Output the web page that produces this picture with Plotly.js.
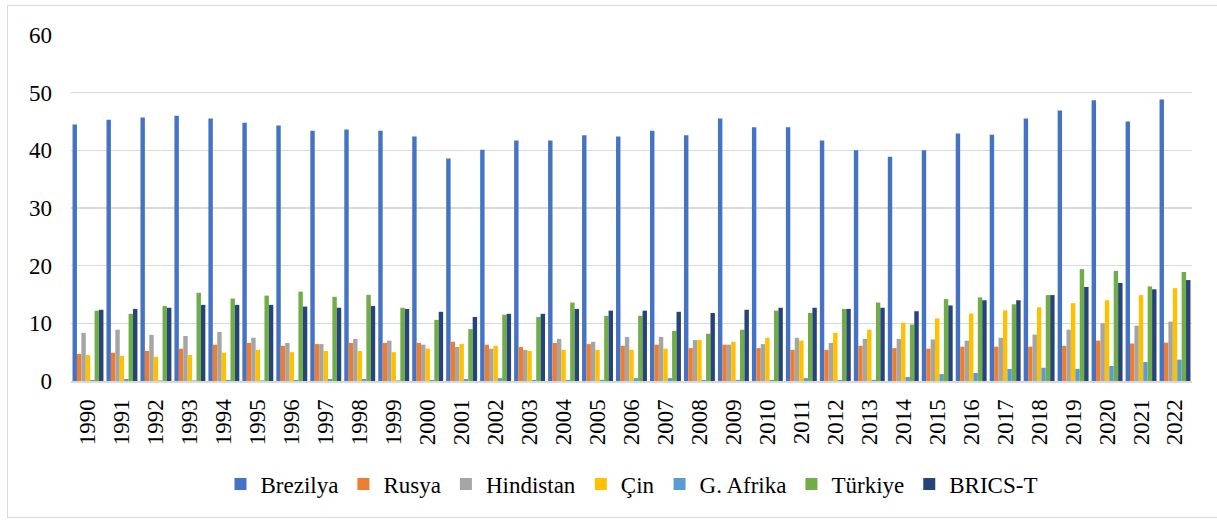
<!DOCTYPE html>
<html>
<head>
<meta charset="utf-8">
<script src="https://cdn.plot.ly/plotly-3.0.1.min.js"></script>
<style>
html,body{margin:0;padding:0;background:#fff;}
#frame{position:absolute;left:7px;top:5px;width:1220px;height:513px;border:1px solid #d9d9d9;box-sizing:border-box;}
#chart{position:absolute;left:0;top:0;width:1217px;height:520px;}
</style>
</head>
<body>
<div id="frame"></div>
<div id="chart"></div>
<script>
const years = ["1990","1991","1992","1993","1994","1995","1996","1997","1998","1999",
  "2000","2001","2002","2003","2004","2005","2006","2007","2008","2009",
  "2010","2011","2012","2013","2014","2015","2016","2017","2018","2019",
  "2020","2021","2022"];

const brezilya = [44.5,45.3,45.7,46.0,45.5,44.8,44.3,43.4,43.6,43.4,
  42.4,38.6,40.1,41.7,41.7,42.6,42.4,43.4,42.6,45.5,
  44.0,44.0,41.7,40.0,38.9,40.0,42.9,42.7,45.5,46.9,
  48.7,45.0,48.8];
const rusya = [4.7,4.9,5.2,5.6,6.3,6.6,6.1,6.4,6.6,6.6,
  6.6,6.8,6.3,5.9,6.6,6.4,6.1,6.3,5.7,6.3,
  5.7,5.4,5.4,6.1,5.7,5.6,5.95,5.95,5.95,6.1,
  7.0,6.5,6.65];
const hindistan = [8.35,8.9,8.0,7.8,8.5,7.5,6.6,6.4,7.3,7.0,
  6.3,5.9,5.6,5.4,7.3,6.8,7.65,7.65,7.1,6.3,
  6.4,7.5,6.6,7.3,7.3,7.2,7.0,7.5,8.05,8.9,
  10.0,9.6,10.3];
const cin = [4.5,4.35,4.2,4.5,4.9,5.4,5.0,5.2,5.2,5.0,
  5.6,6.4,6.1,5.2,5.4,5.4,5.4,5.6,7.1,6.8,
  7.5,7.0,8.35,8.9,10.1,10.85,11.7,12.25,12.8,13.5,
  14.0,14.9,16.1];
const gafrika = [0.2,0.35,0.1,0.1,0.2,0.1,0.2,0.35,0.35,0.1,
  0.2,0.35,0.5,0.2,0.2,0.2,0.5,0.5,0.2,0.2,
  0.2,0.5,0.2,0.2,0.7,1.2,1.4,2.1,2.3,2.1,
  2.6,3.3,3.7];
const turkiye = [12.2,11.65,13.0,15.3,14.3,14.8,15.5,14.6,14.95,12.7,
  10.6,9.0,11.5,11.1,13.6,11.3,11.3,8.7,8.2,8.9,
  12.2,11.8,12.5,13.6,9.8,14.2,14.5,13.3,14.9,19.4,
  19.1,16.4,18.9];
const bricsT = [12.35,12.5,12.7,13.2,13.2,13.2,12.9,12.7,13.0,12.5,
  12.0,11.1,11.65,11.65,12.5,12.2,12.2,12.0,11.8,12.35,
  12.7,12.7,12.5,12.7,12.1,13.1,14.0,14.0,14.9,16.3,
  17.0,15.9,17.5];

const seriesNames = ["Brezilya","Rusya","Hindistan","Çin","G. Afrika","Türkiye","BRICS-T"];
const seriesValues = [brezilya, rusya, hindistan, cin, gafrika, turkiye, bricsT];
const seriesColors = ["#4472C4","#ED7D31","#A5A5A5","#FFC000","#5B9BD5","#70AD47","#264478"];

const FONT = "'Liberation Serif', 'Times New Roman', serif";

const traces = seriesNames.map((n, i) => ({
  type: "bar",
  name: n,
  x: years,
  y: seriesValues[i],
  marker: {color: seriesColors[i]},
  hoverinfo: "x+y+name"
}));

const layout = {
  width: 1217,
  height: 520,
  margin: {l: 71, r: 25, t: 35, b: 139},
  paper_bgcolor: "rgba(0,0,0,0)",
  plot_bgcolor: "rgba(0,0,0,0)",
  barmode: "group",
  bargap: 0.09,
  bargroupgap: 0,
  font: {family: FONT, size: 23, color: "#000"},
  xaxis: {
    type: "category",
    tickangle: -90,
    showgrid: false,
    showline: true,
    linecolor: "#d9d9d9",
    linewidth: 2,
    ticks: "",
    ticklabelstandoff: 7,
    tickfont: {family: FONT, size: 23, color: "#000"}
  },
  yaxis: {
    range: [0, 60],
    dtick: 10,
    tick0: 0,
    showgrid: true,
    gridcolor: "#d9d9d9",
    gridwidth: 1.5,
    zeroline: false,
    showline: false,
    ticks: "",
    ticklabelstandoff: 18,
    tickfont: {family: FONT, size: 23, color: "#000"}
  },
  showlegend: true,
  legend: {
    orientation: "h",
    x: 0.5,
    xanchor: "center",
    y: -0.298,
    yanchor: "middle",
    font: {family: FONT, size: 23, color: "#000"},
    traceorder: "normal"
  }
};

Plotly.newPlot("chart", traces, layout, {displayModeBar: false, staticPlot: true});
</script>
</body>
</html>
